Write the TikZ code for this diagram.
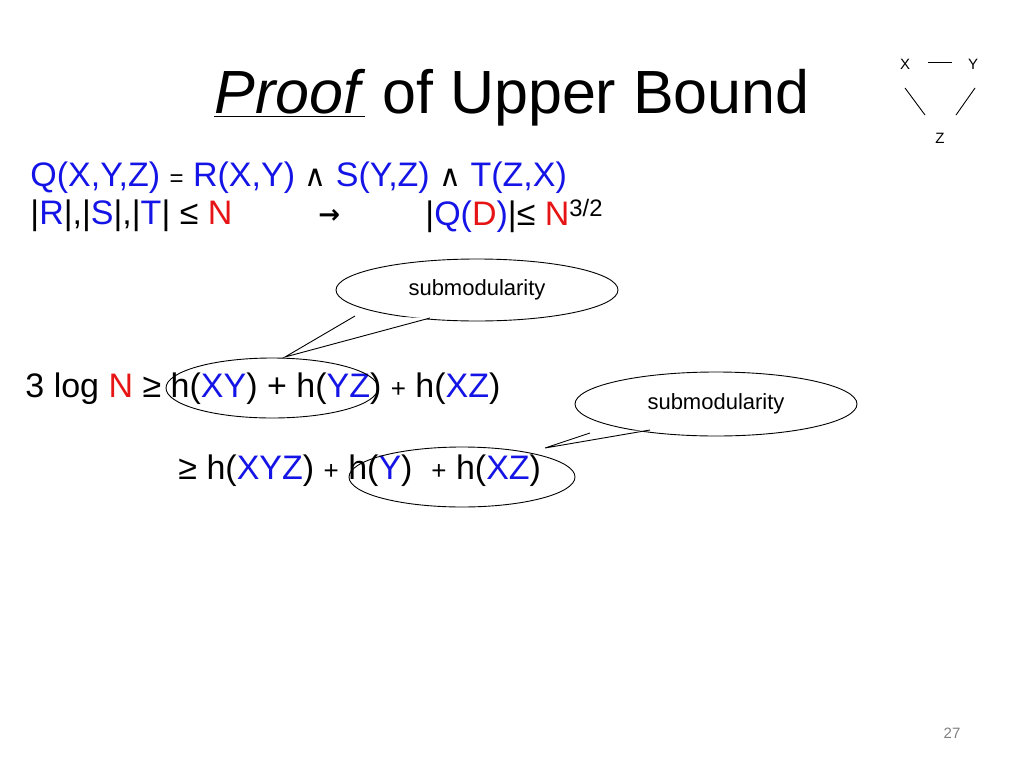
\documentclass[tikz,border=0pt]{standalone}
\usepackage{fontspec}
\setmainfont{Liberation Sans}
\newfontfamily\symfont{DejaVu Sans}
\usetikzlibrary{positioning, shapes.geometric}
\definecolor{qblue}{RGB}{20,20,230}
\definecolor{nred}{RGB}{230,20,20}
\newcommand{\bl}[1]{\textcolor{qblue}{#1}}
\newcommand{\rd}[1]{\textcolor{nred}{#1}}
\tikzset{
  line/.style={anchor=west, inner sep=0pt, font=\fontsize{34}{40}\selectfont},
  bubble/.style={draw, ellipse, minimum width=282pt, minimum height=62pt,
                 font=\fontsize{22}{26}\selectfont},
  tiny/.style={font=\fontsize{15}{18}\selectfont, inner sep=1pt}
}
\begin{document}
\begin{tikzpicture}[x=1pt, y=-1pt, line width=0.9pt]
    \useasboundingbox (0,0) rectangle (1024,768);

    % Title
    \node[font=\fontsize{61}{70}\selectfont] (title) at (512,98)
        {\underline{\textit{Proof}} of Upper Bound};

    % The small triangle
    \node[tiny] (x) at (905,64) {X};
    \node[tiny] (y) at (973,64) {Y};
    \node[tiny] (z) at (940,138) {Z};
    \draw (928,62) -- (952,62);
    \draw (905,88) -- (925,115);
    \draw (975,88) -- (956,115);

    % Query and bounds
    \node[line] (query) at (30,178)
        {\bl{Q(X,Y,Z)} {\fontsize{24}{28}\selectfont =} \bl{R(X,Y)} {\symfont\fontsize{30}{34}\selectfont ∧} \bl{S(Y,Z)} {\symfont\fontsize{30}{34}\selectfont ∧} \bl{T(Z,X)}};
    \node[line] (sizes) at (30,216)
        {|\bl{R}|,|\bl{S}|,|\bl{T}| ≤ \rd{N}};
    \node[line, font=\symfont\bfseries\fontsize{26}{30}\selectfont] (arrow) at (318,216) {→};
    \node[line] (result) at (425,216)
        {|\bl{Q(}\rd{D}\bl{)}|≤ \rd{N}\textsuperscript{3/2}};

    % Inequalities
    \node[line] (ineqa) at (25,389)
        {3 log \rd{N} ≥ h(\bl{XY}) + h(\bl{YZ}) {\fontsize{26}{30}\selectfont +} h(\bl{XZ})};
    \node[line] (ineqb) at (178,471)
        {≥ h(\bl{XYZ}) {\fontsize{26}{30}\selectfont +} h(\bl{Y})\ \ {\fontsize{26}{30}\selectfont +} h(\bl{XZ})};

    % Circled terms
    \node[draw, ellipse, minimum width=212pt, minimum height=60pt] (circa) at (272,388) {};
    \node[draw, ellipse, minimum width=226pt, minimum height=60pt] (circb) at (462,477) {};

    % Callouts
    \node[bubble] (suba) at (477,290) {submodularity};
    \node[bubble, minimum height=64pt] (subb) at (716,404) {submodularity};
    \coordinate (tipa) at (285,357);
    \coordinate (tipb) at (545,448);
    \fill[white] (tipa) -- (355,316) -- (430,318) -- cycle;
    \draw (355,316) -- (tipa) -- (430,318);
    \fill[white] (tipb) -- (590,433) -- (650,430) -- cycle;
    \draw (590,433) -- (tipb) -- (650,430);

    % Page number
    \node[font=\fontsize{15}{18}\selectfont, text=gray] (page) at (952,733) {27};
\end{tikzpicture}
\end{document}
